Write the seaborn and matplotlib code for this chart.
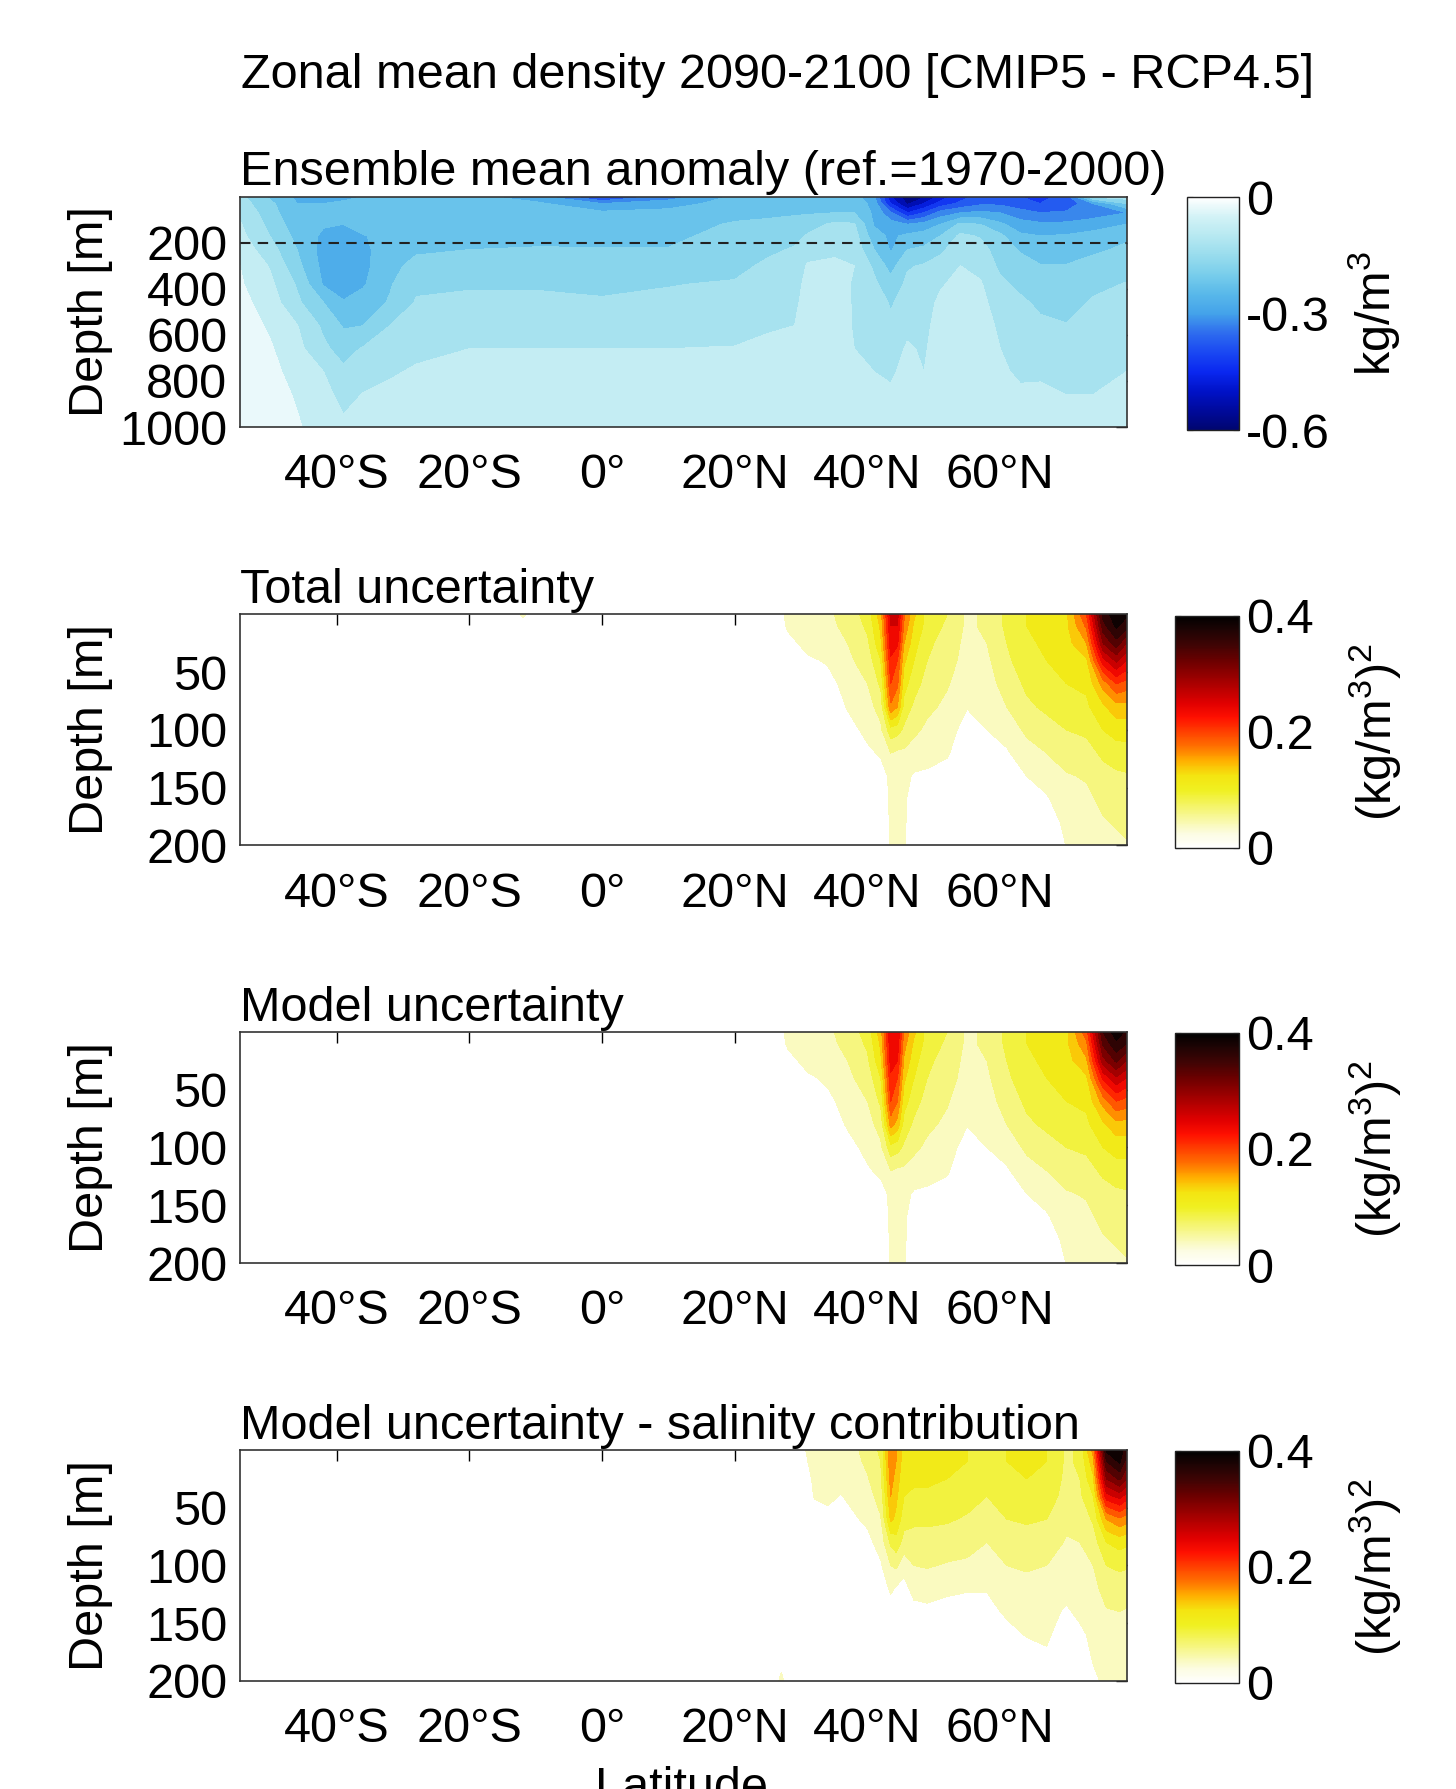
import numpy as np
import matplotlib
matplotlib.use("Agg")
import matplotlib.pyplot as plt
import seaborn as sns
from matplotlib.colors import Normalize
from matplotlib.cm import ScalarMappable

# ---------------- values ----------------
LAT_TICKS = [-40, -20, 0, 20, 40, 60]
LAT_TICK_LABELS = ['40°S', '20°S', '0°', '20°N', '40°N', '60°N']

# Ensemble mean density anomaly (kg/m3), one list per latitude, top to bottom
ANOM_DEPTH = [0, 30, 70, 120, 170, 230, 300, 380, 460, 560, 660, 760, 860, 1000]
ANOM_LAT = [-55, -50, -46, -42, -39, -36, -32, -28, -20, -10, 0, 10, 20, 25, 29, 31,
            35, 38, 41, 43.5, 46, 48.5, 51, 54, 57, 60, 63, 66, 70, 74, 79]
ANOM = [
    [-0.13, -0.12, -0.10, -0.09, -0.08, -0.065, -0.045, -0.04, -0.03, -0.02, -0.02, -0.02, -0.02, -0.01],
    [-0.21, -0.19, -0.18, -0.165, -0.152, -0.13, -0.105, -0.09, -0.075, -0.058, -0.045, -0.035, -0.03, -0.02],
    [-0.26, -0.25, -0.24, -0.23, -0.215, -0.2, -0.185, -0.155, -0.14, -0.098, -0.085, -0.07, -0.055, -0.045],
    [-0.27, -0.25, -0.24, -0.245, -0.26, -0.27, -0.265, -0.255, -0.2, -0.16, -0.14, -0.1, -0.085, -0.07],
    [-0.265, -0.24, -0.24, -0.25, -0.28, -0.29, -0.29, -0.28, -0.245, -0.205, -0.17, -0.14, -0.115, -0.09],
    [-0.25, -0.23, -0.2, -0.21, -0.255, -0.265, -0.265, -0.255, -0.23, -0.2, -0.145, -0.12, -0.098, -0.08],
    [-0.235, -0.225, -0.22, -0.22, -0.22, -0.215, -0.21, -0.205, -0.195, -0.15, -0.135, -0.105, -0.09, -0.08],
    [-0.235, -0.225, -0.22, -0.215, -0.21, -0.205, -0.19, -0.16, -0.145, -0.125, -0.11, -0.095, -0.085, -0.075],
    [-0.235, -0.23, -0.225, -0.215, -0.21, -0.2, -0.18, -0.155, -0.14, -0.12, -0.1, -0.09, -0.08, -0.07],
    [-0.28, -0.24, -0.225, -0.215, -0.208, -0.198, -0.18, -0.155, -0.14, -0.12, -0.1, -0.09, -0.08, -0.07],
    [-0.42, -0.3, -0.24, -0.22, -0.21, -0.198, -0.18, -0.16, -0.145, -0.122, -0.1, -0.09, -0.08, -0.07],
    [-0.33, -0.27, -0.235, -0.22, -0.21, -0.198, -0.175, -0.152, -0.14, -0.12, -0.1, -0.09, -0.08, -0.07],
    [-0.24, -0.23, -0.215, -0.195, -0.185, -0.175, -0.165, -0.145, -0.135, -0.115, -0.098, -0.09, -0.08, -0.07],
    [-0.24, -0.225, -0.21, -0.19, -0.175, -0.16, -0.14, -0.125, -0.115, -0.105, -0.09, -0.085, -0.08, -0.07],
    [-0.235, -0.22, -0.205, -0.185, -0.165, -0.145, -0.13, -0.118, -0.11, -0.1, -0.09, -0.085, -0.08, -0.07],
    [-0.235, -0.22, -0.205, -0.17, -0.145, -0.12, -0.095, -0.085, -0.08, -0.075, -0.07, -0.07, -0.065, -0.06],
    [-0.23, -0.215, -0.2, -0.14, -0.125, -0.11, -0.09, -0.08, -0.075, -0.07, -0.07, -0.07, -0.065, -0.06],
    [-0.23, -0.215, -0.2, -0.145, -0.13, -0.115, -0.1, -0.105, -0.105, -0.105, -0.1, -0.098, -0.09, -0.08],
    [-0.29, -0.27, -0.26, -0.255, -0.23, -0.2, -0.16, -0.14, -0.125, -0.115, -0.11, -0.1, -0.095, -0.085],
    [-0.5, -0.45, -0.34, -0.28, -0.26, -0.255, -0.22, -0.18, -0.155, -0.14, -0.12, -0.105, -0.095, -0.09],
    [-0.58, -0.56, -0.45, -0.3, -0.24, -0.2, -0.155, -0.14, -0.13, -0.11, -0.095, -0.09, -0.085, -0.08],
    [-0.56, -0.5, -0.4, -0.28, -0.23, -0.19, -0.145, -0.13, -0.12, -0.11, -0.105, -0.1, -0.098, -0.09],
    [-0.48, -0.43, -0.33, -0.25, -0.2, -0.16, -0.13, -0.105, -0.09, -0.085, -0.08, -0.075, -0.07, -0.07],
    [-0.42, -0.39, -0.3, -0.19, -0.14, -0.12, -0.1, -0.085, -0.075, -0.07, -0.065, -0.06, -0.06, -0.06],
    [-0.38, -0.36, -0.29, -0.2, -0.155, -0.13, -0.115, -0.095, -0.085, -0.075, -0.07, -0.07, -0.065, -0.06],
    [-0.37, -0.36, -0.3, -0.24, -0.19, -0.175, -0.16, -0.14, -0.125, -0.11, -0.1, -0.095, -0.09, -0.08],
    [-0.4, -0.38, -0.33, -0.28, -0.24, -0.205, -0.18, -0.162, -0.14, -0.13, -0.115, -0.105, -0.095, -0.085],
    [-0.42, -0.4, -0.35, -0.29, -0.25, -0.22, -0.198, -0.18, -0.16, -0.14, -0.12, -0.104, -0.095, -0.09],
    [-0.38, -0.39, -0.34, -0.29, -0.245, -0.22, -0.198, -0.18, -0.165, -0.148, -0.125, -0.11, -0.1, -0.095],
    [-0.14, -0.3, -0.33, -0.27, -0.235, -0.21, -0.18, -0.16, -0.145, -0.135, -0.12, -0.11, -0.1, -0.095],
    [-0.12, -0.2, -0.3, -0.25, -0.21, -0.19, -0.165, -0.148, -0.135, -0.12, -0.105, -0.1, -0.095, -0.09],
]

# Uncertainty fields ((kg/m3)^2), upper 200 m
UNC_DEPTH = [0, 10, 25, 40, 60, 80, 100, 120, 140, 160, 180, 200]

TOTAL_LAT = [-55, -14, -12, -9, 26, 28, 31, 34, 37, 40, 42, 43.5, 44.5, 45.5, 47, 49,
             52, 55, 58, 61, 64, 67, 70, 73, 75.5, 77.5, 79]
TOTAL = [
    [0, 0, 0, 0, 0, 0, 0, 0, 0, 0, 0, 0],
    [0, 0, 0, 0, 0, 0, 0, 0, 0, 0, 0, 0],
    [0.03, 0.012, 0, 0, 0, 0, 0, 0, 0, 0, 0, 0],
    [0, 0, 0, 0, 0, 0, 0, 0, 0, 0, 0, 0],
    [0, 0, 0, 0, 0, 0, 0, 0, 0, 0, 0, 0],
    [0.035, 0.03, 0.015, 0.005, 0, 0, 0, 0, 0, 0, 0, 0],
    [0.04, 0.04, 0.035, 0.02, 0.01, 0, 0, 0, 0, 0, 0, 0],
    [0.045, 0.045, 0.04, 0.028, 0.015, 0.005, 0, 0, 0, 0, 0, 0],
    [0.06, 0.055, 0.05, 0.045, 0.035, 0.027, 0.015, 0.005, 0, 0, 0, 0],
    [0.085, 0.08, 0.07, 0.06, 0.05, 0.04, 0.032, 0.02, 0.01, 0, 0, 0],
    [0.14, 0.13, 0.12, 0.1, 0.08, 0.06, 0.045, 0.028, 0.015, 0.005, 0, 0],
    [0.26, 0.25, 0.24, 0.22, 0.2, 0.17, 0.09, 0.05, 0.03, 0.03, 0.03, 0.03],
    [0.26, 0.25, 0.23, 0.2, 0.18, 0.15, 0.085, 0.045, 0.035, 0.035, 0.035, 0.035],
    [0.18, 0.17, 0.15, 0.13, 0.11, 0.09, 0.07, 0.045, 0.032, 0.03, 0.03, 0.028],
    [0.13, 0.12, 0.11, 0.1, 0.085, 0.07, 0.055, 0.04, 0.022, 0.01, 0.005, 0],
    [0.09, 0.09, 0.08, 0.075, 0.065, 0.055, 0.045, 0.035, 0.02, 0.005, 0, 0],
    [0.075, 0.07, 0.065, 0.06, 0.052, 0.045, 0.035, 0.028, 0.015, 0, 0, 0],
    [0.045, 0.045, 0.042, 0.04, 0.035, 0.026, 0.015, 0.005, 0, 0, 0, 0],
    [0.055, 0.055, 0.05, 0.045, 0.04, 0.035, 0.025, 0.015, 0, 0, 0, 0],
    [0.08, 0.08, 0.075, 0.07, 0.06, 0.05, 0.035, 0.022, 0.012, 0, 0, 0],
    [0.1, 0.1, 0.095, 0.09, 0.08, 0.07, 0.055, 0.04, 0.025, 0.01, 0, 0],
    [0.11, 0.11, 0.105, 0.1, 0.09, 0.08, 0.065, 0.05, 0.035, 0.022, 0.01, 0],
    [0.12, 0.12, 0.115, 0.11, 0.1, 0.09, 0.075, 0.06, 0.048, 0.04, 0.032, 0.026],
    [0.2, 0.18, 0.15, 0.12, 0.105, 0.095, 0.08, 0.065, 0.052, 0.045, 0.04, 0.035],
    [0.36, 0.34, 0.3, 0.24, 0.16, 0.12, 0.1, 0.08, 0.065, 0.055, 0.048, 0.04],
    [0.39, 0.38, 0.34, 0.28, 0.2, 0.14, 0.11, 0.088, 0.07, 0.06, 0.052, 0.045],
    [0.38, 0.36, 0.3, 0.25, 0.19, 0.14, 0.11, 0.09, 0.072, 0.062, 0.055, 0.048],
]

MODEL_LAT = [-55, 26, 28, 31, 34, 37, 40, 42, 43.5, 44.5, 45.5, 47, 49,
             52, 55, 58, 61, 64, 67, 70, 73, 75.5, 77.5, 79]
MODEL = [
    [0, 0, 0, 0, 0, 0, 0, 0, 0, 0, 0, 0],
    [0, 0, 0, 0, 0, 0, 0, 0, 0, 0, 0, 0],
    [0.035, 0.03, 0.015, 0.005, 0, 0, 0, 0, 0, 0, 0, 0],
    [0.04, 0.04, 0.035, 0.02, 0.01, 0, 0, 0, 0, 0, 0, 0],
    [0.045, 0.045, 0.04, 0.03, 0.018, 0.008, 0, 0, 0, 0, 0, 0],
    [0.06, 0.055, 0.05, 0.045, 0.036, 0.028, 0.016, 0.006, 0, 0, 0, 0],
    [0.085, 0.08, 0.07, 0.06, 0.05, 0.04, 0.032, 0.022, 0.01, 0, 0, 0],
    [0.14, 0.13, 0.12, 0.1, 0.08, 0.06, 0.045, 0.03, 0.016, 0.005, 0, 0],
    [0.25, 0.245, 0.235, 0.22, 0.2, 0.16, 0.09, 0.05, 0.03, 0.03, 0.03, 0.03],
    [0.25, 0.24, 0.225, 0.2, 0.175, 0.14, 0.085, 0.045, 0.035, 0.035, 0.035, 0.035],
    [0.17, 0.16, 0.145, 0.13, 0.11, 0.09, 0.07, 0.045, 0.032, 0.03, 0.03, 0.028],
    [0.13, 0.12, 0.11, 0.1, 0.085, 0.07, 0.055, 0.04, 0.022, 0.01, 0.005, 0],
    [0.09, 0.09, 0.08, 0.075, 0.065, 0.055, 0.045, 0.035, 0.02, 0.005, 0, 0],
    [0.075, 0.07, 0.065, 0.06, 0.052, 0.045, 0.035, 0.028, 0.015, 0, 0, 0],
    [0.045, 0.045, 0.042, 0.04, 0.035, 0.026, 0.015, 0.005, 0, 0, 0, 0],
    [0.055, 0.055, 0.05, 0.045, 0.04, 0.035, 0.025, 0.015, 0, 0, 0, 0],
    [0.08, 0.08, 0.075, 0.07, 0.06, 0.05, 0.035, 0.022, 0.012, 0, 0, 0],
    [0.1, 0.1, 0.095, 0.09, 0.08, 0.07, 0.055, 0.04, 0.025, 0.01, 0, 0],
    [0.11, 0.11, 0.105, 0.1, 0.09, 0.08, 0.065, 0.05, 0.035, 0.022, 0.01, 0],
    [0.12, 0.12, 0.115, 0.11, 0.1, 0.09, 0.075, 0.06, 0.048, 0.04, 0.032, 0.026],
    [0.19, 0.17, 0.145, 0.12, 0.105, 0.095, 0.08, 0.065, 0.052, 0.045, 0.04, 0.035],
    [0.35, 0.33, 0.29, 0.23, 0.16, 0.12, 0.1, 0.08, 0.065, 0.055, 0.048, 0.04],
    [0.39, 0.37, 0.33, 0.27, 0.2, 0.14, 0.11, 0.088, 0.07, 0.06, 0.052, 0.045],
    [0.37, 0.35, 0.3, 0.25, 0.19, 0.14, 0.11, 0.09, 0.072, 0.062, 0.055, 0.048],
]

SAL_LAT = [-55, 26, 27, 28, 30, 32, 34, 36, 38, 40, 42, 43.5, 44.3, 45.5, 47, 49,
           52, 55, 58, 61, 64, 67, 70, 72, 74, 76, 78, 79]
SAL = [
    [0, 0, 0, 0, 0, 0, 0, 0, 0, 0, 0, 0],
    [0, 0, 0, 0, 0, 0, 0, 0, 0, 0, 0, 0],
    [0, 0, 0, 0, 0, 0, 0, 0, 0, 0, 0, 0.04],
    [0, 0, 0, 0, 0, 0, 0, 0, 0, 0, 0, 0],
    [0.02, 0.015, 0, 0, 0, 0, 0, 0, 0, 0, 0, 0],
    [0.035, 0.035, 0.032, 0.027, 0.01, 0, 0, 0, 0, 0, 0, 0],
    [0.04, 0.04, 0.035, 0.03, 0.018, 0.005, 0, 0, 0, 0, 0, 0],
    [0.04, 0.04, 0.032, 0.024, 0.01, 0, 0, 0, 0, 0, 0, 0],
    [0.045, 0.043, 0.038, 0.032, 0.022, 0.01, 0, 0, 0, 0, 0, 0],
    [0.06, 0.055, 0.048, 0.04, 0.03, 0.018, 0.005, 0, 0, 0, 0, 0],
    [0.08, 0.075, 0.07, 0.06, 0.048, 0.035, 0.022, 0.008, 0, 0, 0, 0],
    [0.17, 0.17, 0.16, 0.15, 0.13, 0.08, 0.05, 0.03, 0.01, 0, 0, 0],
    [0.15, 0.15, 0.14, 0.13, 0.12, 0.09, 0.055, 0.022, 0.005, 0, 0, 0],
    [0.11, 0.11, 0.105, 0.1, 0.085, 0.065, 0.035, 0.015, 0, 0, 0, 0],
    [0.11, 0.11, 0.105, 0.095, 0.08, 0.065, 0.05, 0.035, 0.015, 0, 0, 0],
    [0.11, 0.11, 0.105, 0.095, 0.08, 0.065, 0.052, 0.037, 0.018, 0, 0, 0],
    [0.11, 0.105, 0.1, 0.092, 0.078, 0.062, 0.048, 0.032, 0.012, 0, 0, 0],
    [0.1, 0.1, 0.095, 0.085, 0.072, 0.06, 0.045, 0.028, 0.01, 0, 0, 0],
    [0.085, 0.085, 0.08, 0.075, 0.065, 0.05, 0.04, 0.027, 0.015, 0, 0, 0],
    [0.1, 0.1, 0.095, 0.088, 0.075, 0.06, 0.05, 0.042, 0.03, 0.015, 0, 0],
    [0.105, 0.105, 0.1, 0.09, 0.078, 0.065, 0.052, 0.045, 0.035, 0.027, 0.01, 0],
    [0.1, 0.1, 0.095, 0.088, 0.075, 0.06, 0.05, 0.04, 0.032, 0.028, 0.022, 0],
    [0.07, 0.07, 0.068, 0.065, 0.055, 0.048, 0.04, 0.032, 0.022, 0.015, 0.005, 0],
    [0.08, 0.08, 0.075, 0.07, 0.06, 0.05, 0.042, 0.036, 0.03, 0.02, 0.01, 0],
    [0.16, 0.14, 0.12, 0.1, 0.078, 0.062, 0.05, 0.042, 0.035, 0.03, 0.027, 0.02],
    [0.38, 0.35, 0.3, 0.24, 0.15, 0.1, 0.075, 0.06, 0.048, 0.04, 0.035, 0.03],
    [0.39, 0.38, 0.33, 0.26, 0.17, 0.11, 0.08, 0.062, 0.05, 0.043, 0.038, 0.033],
    [0.36, 0.34, 0.3, 0.24, 0.16, 0.105, 0.078, 0.06, 0.048, 0.042, 0.036, 0.03],
]

# colour ramps (evenly spaced stops, low -> high value)
BLUE_STOPS = ['#000670', '#000a9c', '#0012c8', '#0a28f0', '#1a48f2', '#2e6cee',
              '#44a2ea', '#58b8ea', '#78cdeb', '#98dced', '#b6e8f1', '#d2f2f6', '#ffffff']
HOT_STOPS = ['#ffffff', '#fcfce0', '#f8f8a0', '#f4f460', '#f0f020', '#f4e410',
             '#ffb000', '#ff7000', '#ff4000', '#ff1000', '#e00000', '#b80000',
             '#900000', '#680000', '#400404', '#200404', '#000000']

# ---------------- style ----------------
sns.set_style("white")
plt.rcParams['font.family'] = ['Liberation Sans', 'DejaVu Sans']
plt.rcParams['mathtext.fontset'] = 'custom'
plt.rcParams['mathtext.rm'] = 'Liberation Sans'
for key in ['text.color', 'axes.labelcolor', 'xtick.color', 'ytick.color']:
    plt.rcParams[key] = 'black'

FS = 35
plt.rcParams['font.size'] = FS

blue_cmap = sns.blend_palette(BLUE_STOPS, n_colors=256, as_cmap=True)
hot_cmap = sns.blend_palette(HOT_STOPS, n_colors=256, as_cmap=True)

fig = plt.figure(figsize=(14.56, 17.89), dpi=100)


def style_axes(ax, ymax, yticks):
    ax.set_xlim(-54.6, 79.1)
    ax.set_ylim(ymax, 0)
    ax.set_xticks(LAT_TICKS, LAT_TICK_LABELS)
    ax.set_yticks(yticks, [str(t) for t in yticks])
    ax.tick_params(direction='in', length=8, width=1, top=True, right=True,
                   labelsize=FS, colors='black')
    ax.tick_params(axis='x', pad=19)
    ax.tick_params(axis='y', pad=9)
    for s in ax.spines.values():
        s.set_color('#333333')
        s.set_linewidth(1.2)
    ax.set_ylabel('Depth [m]', fontsize=FS)
    ax.yaxis.set_label_coords(-0.168, 0.5)
    ax.yaxis.label.set_va('center')


def add_cbar(rect, cmap, vmin, vmax, ticks, labels, unit, label_x):
    cax = fig.add_axes(rect)
    sm = ScalarMappable(norm=Normalize(vmin=vmin, vmax=vmax), cmap=cmap)
    cb = fig.colorbar(sm, cax=cax)
    cb.set_ticks(ticks, labels=labels)
    cb.outline.set_linewidth(1.0)
    cb.outline.set_edgecolor('#222222')
    cax.tick_params(direction='in', length=4, left=True, right=True,
                    labelsize=FS, pad=5)
    cax.set_ylabel(unit, fontsize=FS, rotation=90)
    cax.yaxis.set_label_coords(label_x, 0.5)
    cax.yaxis.label.set_va('center')
    return cb


# ---- panel 1: ensemble mean anomaly ----
ax1 = fig.add_axes([0.1648, 0.7613, 0.6092, 0.1288])
ax1.contourf(ANOM_LAT, ANOM_DEPTH, np.array(ANOM).T,
             levels=np.linspace(-0.6, 0.0, 13), cmap=blue_cmap,
             norm=Normalize(vmin=-0.6, vmax=0.0))
ax1.axhline(200, color='#222222', ls=(0, (5, 3.5)), lw=1.5)
style_axes(ax1, 1000, [200, 400, 600, 800, 1000])
ax1.set_title('Ensemble mean anomaly (ref.=1970-2000)', loc='left', fontsize=FS, pad=8)
add_cbar([0.8152, 0.7596, 0.0357, 0.1302], blue_cmap, -0.6, 0.0,
         [-0.6, -0.3, 0.0], ['-0.6', '-0.3', '0'], 'kg/m$^3$', 3.62)

# ---- panels 2-4: uncertainty ----
unc_levels = np.linspace(0.025, 0.4, 16)
panels = [
    (TOTAL_LAT, TOTAL, 'Total uncertainty', 0.5274, 0.526),
    (MODEL_LAT, MODEL, 'Model uncertainty', 0.2940, 0.2929),
    (SAL_LAT, SAL, 'Model uncertainty - salinity contribution', 0.0604, 0.0593),
]
for lat, vals, title, ybot, cbot in panels:
    ax = fig.add_axes([0.1648, ybot, 0.6092, 0.1292])
    ax.contourf(lat, UNC_DEPTH, np.array(vals).T, levels=unc_levels,
                cmap=hot_cmap, norm=Normalize(vmin=0.0, vmax=0.4))
    style_axes(ax, 200, [50, 100, 150, 200])
    ax.set_title(title, loc='left', fontsize=FS, pad=8)
    add_cbar([0.807, cbot, 0.044, 0.1297], hot_cmap, 0.0, 0.4,
             [0.0, 0.2, 0.4], ['0', '0.2', '0.4'], '(kg/m$^3$)$^2$', 3.125)

fig.text(0.534, 0.958, 'Zonal mean density 2090-2100 [CMIP5 - RCP4.5]',
         ha='center', va='center', fontsize=FS)
fig.text(0.468, 0.0128, 'Latitude', ha='center', va='top', fontsize=FS)

fig.savefig('out.png', dpi=100)
